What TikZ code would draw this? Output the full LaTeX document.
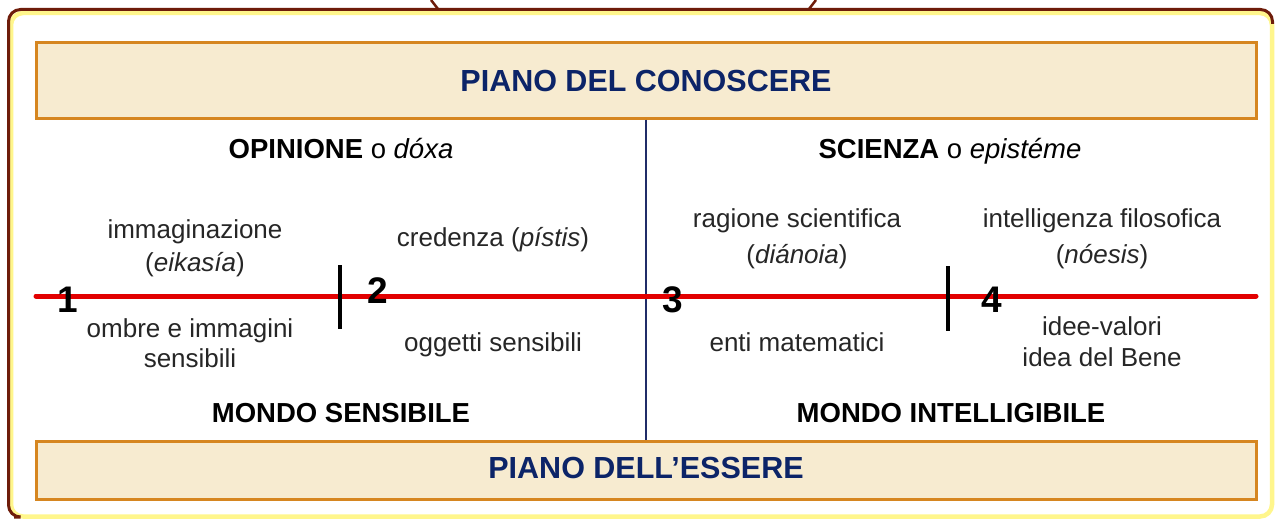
\documentclass[tikz,border=0pt]{standalone}
\usepackage{fontspec}
\setmainfont{Liberation Sans}
\definecolor{navy}{RGB}{12,36,104}
\definecolor{vline}{RGB}{32,44,104}
\definecolor{boxfill}{RGB}{247,235,208}
\definecolor{boxdraw}{RGB}{214,134,32}
\definecolor{framebrown}{RGB}{110,28,10}
\definecolor{frameyellow}{RGB}{255,246,140}
\definecolor{redline}{RGB}{226,0,0}
\tikzset{
  plain/.style={font=\fontsize{26}{30}\selectfont, anchor=base, inner sep=0pt, text=black!85},
  head/.style={font=\fontsize{27.5}{32}\selectfont\bfseries, anchor=base, inner sep=0pt},
  numlabel/.style={font=\fontsize{37}{40}\selectfont\bfseries, anchor=base, inner sep=0pt},
  titletext/.style={font=\fontsize{30.5}{34}\selectfont\bfseries, anchor=base, inner sep=0pt, text=navy},
  planebox/.style={draw=boxdraw, fill=boxfill, line width=3pt, minimum width=1220pt, inner sep=0pt},
  tickmark/.style={line width=4pt, black},
}
\begin{document}
\begin{tikzpicture}[x=1pt,y=-1pt]
\useasboundingbox[fill=white] (0,0) rectangle (1275,519);
% outer frame
\draw[frameyellow, line width=4.5pt, rounded corners=12pt] (11,13) rectangle (1272,516.5);
\draw[framebrown, line width=3pt, rounded corners=12pt] (14,517) -- (8.5,517) -- (8.5,9.5) -- (1272.5,9.5) -- (1272.5,24);
\draw[framebrown, line width=2.5pt] (431,0) .. controls (435,4) .. (438,9);
\draw[framebrown, line width=2.5pt] (816,0) .. controls (812,4) .. (809,9);
% plane boxes
\node[planebox, minimum height=75pt] (topbox) at (646,80.5) {};
\node[planebox, minimum height=58pt] (botbox) at (646,470) {};
\node[titletext] (toptitle) at (646,92) {PIANO DEL CONOSCERE};
\node[titletext] (bottitle) at (646,478) {PIANO DELL’ESSERE};
% vertical divider
\draw[vline, line width=2pt] (topbox.south) -- (botbox.north);
% red axis
\coordinate (axL) at (36,296);
\coordinate (axR) at (1256,296);
\draw[redline, line width=5pt, line cap=round] (axL) -- (axR);
% ticks
\coordinate (t1a) at (340,265); \coordinate (t1b) at (340,329);
\coordinate (t2a) at (948,266); \coordinate (t2b) at (948,331);
\draw[tickmark] (t1a) -- (t1b);
\draw[tickmark] (t2a) -- (t2b);
% numbers
\node[numlabel] (n1) at (68,312) {1};
\node[numlabel] (n2) at (378,303) {2};
\node[numlabel] (n3) at (673,312) {3};
\node[numlabel] (n4) at (992,312) {4};
% headings
\node[head] (opinione) at (341,158) {OPINIONE \mdseries o \itshape dóxa};
\node[head] (scienza) at (950,158) {SCIENZA \mdseries o \itshape epistéme};
\node[head] (msens) at (341,422) {MONDO SENSIBILE};
\node[head] (mint) at (951,422) {MONDO INTELLIGIBILE};
% segment texts
\node[plain] (imm1) at (195,238) {immaginazione};
\node[plain] (imm2) at (195,271) {(\textit{eikasía})};
\node[plain] (omb1) at (190,337) {ombre e immagini};
\node[plain] (omb2) at (190,367) {sensibili};
\node[plain] (cred) at (493,246) {credenza (\textit{pístis})};
\node[plain] (ogg) at (493,351) {oggetti sensibili};
\node[plain] (rag1) at (797,227) {ragione scientifica};
\node[plain] (rag2) at (797,263) {(\textit{diánoia})};
\node[plain] (int1) at (1102,227) {intelligenza filosofica};
\node[plain] (int2) at (1102,263) {(\textit{nóesis})};
\node[plain] (enti) at (797,351) {enti matematici};
\node[plain] (idee1) at (1102,335) {idee-valori};
\node[plain] (idee2) at (1102,366) {idea del Bene};
\end{tikzpicture}
\end{document}
